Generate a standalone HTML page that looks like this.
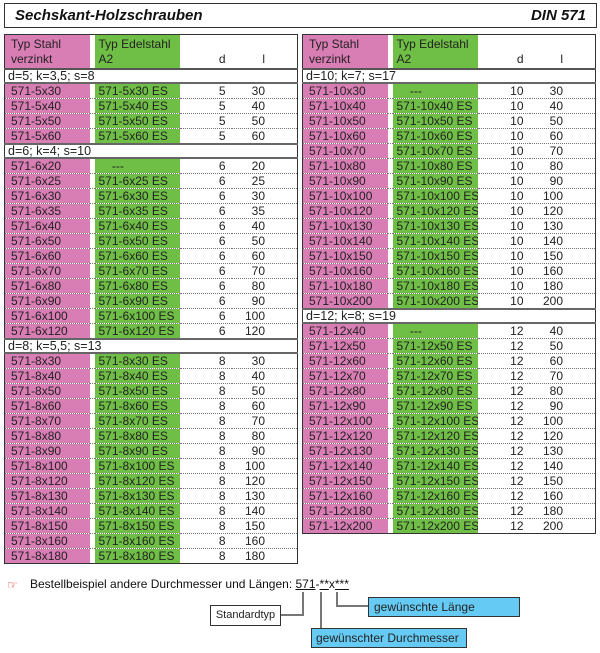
<!DOCTYPE html>
<html><head><meta charset="utf-8"><style>
*{margin:0;padding:0;box-sizing:border-box}
body{width:600px;height:653px;background:#fff;font-family:"Liberation Sans",sans-serif;color:#222;position:relative;overflow:hidden}
.title{position:absolute;left:4px;top:3px;width:593px;height:25px;border:1px solid #333}
.title b{position:absolute;top:3px;font-style:italic;font-size:15px;color:#111}
table{position:absolute;top:34px;border-collapse:collapse;table-layout:fixed;border:1px solid #333;font-size:12px}
td{height:15px;line-height:14px;padding:0;white-space:nowrap;border-bottom:1px dotted #777;overflow:hidden}
td.p{background:#d97db5;padding-left:6px}
td.g{background:#6fbe46;padding-left:4px}
td.w{background:#fff}
td.d{text-align:right;padding-right:6px}
td.l{text-align:right;padding-right:32px}
tr.h td{height:34px;vertical-align:bottom;line-height:15px;border-bottom:2px solid #555;padding-bottom:1px}
tr.s td{height:13px;line-height:12px;background:#fff;border-bottom:2px solid #666;padding-left:3px;font-size:12.5px}
.n td{border-bottom:2px solid #666}
</style></head><body>
<div class="title"><b style="left:10px">Sechskant-Holzschrauben</b><b style="right:10px">DIN 571</b></div>

<table style="left:4px;width:293px">
<colgroup><col style="width:85px"><col style="width:5px"><col style="width:85px"><col style="width:52px"><col style="width:66px"></colgroup>
<tr class="h"><td class="p">Typ Stahl<br>verzinkt</td><td class="w"></td><td class="g">Typ Edelstahl<br>A2</td><td class="w d">d</td><td class="w l">l</td></tr>
<tr class="s"><td colspan="5">d=5; k=3,5; s=8</td></tr>
<tr><td class="p">571-5x30</td><td></td><td class="g">571-5x30 ES</td><td class="d">5</td><td class="l">30</td></tr>
<tr><td class="p">571-5x40</td><td></td><td class="g">571-5x40 ES</td><td class="d">5</td><td class="l">40</td></tr>
<tr><td class="p">571-5x50</td><td></td><td class="g">571-5x50 ES</td><td class="d">5</td><td class="l">50</td></tr>
<tr class="n"><td class="p">571-5x60</td><td></td><td class="g">571-5x60 ES</td><td class="d">5</td><td class="l">60</td></tr>
<tr class="s"><td colspan="5">d=6; k=4; s=10</td></tr>
<tr><td class="p">571-6x20</td><td></td><td class="g">&nbsp;&nbsp;&nbsp;&nbsp;---</td><td class="d">6</td><td class="l">20</td></tr>
<tr><td class="p">571-6x25</td><td></td><td class="g">571-6x25 ES</td><td class="d">6</td><td class="l">25</td></tr>
<tr><td class="p">571-6x30</td><td></td><td class="g">571-6x30 ES</td><td class="d">6</td><td class="l">30</td></tr>
<tr><td class="p">571-6x35</td><td></td><td class="g">571-6x35 ES</td><td class="d">6</td><td class="l">35</td></tr>
<tr><td class="p">571-6x40</td><td></td><td class="g">571-6x40 ES</td><td class="d">6</td><td class="l">40</td></tr>
<tr><td class="p">571-6x50</td><td></td><td class="g">571-6x50 ES</td><td class="d">6</td><td class="l">50</td></tr>
<tr><td class="p">571-6x60</td><td></td><td class="g">571-6x60 ES</td><td class="d">6</td><td class="l">60</td></tr>
<tr><td class="p">571-6x70</td><td></td><td class="g">571-6x70 ES</td><td class="d">6</td><td class="l">70</td></tr>
<tr><td class="p">571-6x80</td><td></td><td class="g">571-6x80 ES</td><td class="d">6</td><td class="l">80</td></tr>
<tr><td class="p">571-6x90</td><td></td><td class="g">571-6x90 ES</td><td class="d">6</td><td class="l">90</td></tr>
<tr><td class="p">571-6x100</td><td></td><td class="g">571-6x100 ES</td><td class="d">6</td><td class="l">100</td></tr>
<tr class="n"><td class="p">571-6x120</td><td></td><td class="g">571-6x120 ES</td><td class="d">6</td><td class="l">120</td></tr>
<tr class="s"><td colspan="5">d=8; k=5,5; s=13</td></tr>
<tr><td class="p">571-8x30</td><td></td><td class="g">571-8x30 ES</td><td class="d">8</td><td class="l">30</td></tr>
<tr><td class="p">571-8x40</td><td></td><td class="g">571-8x40 ES</td><td class="d">8</td><td class="l">40</td></tr>
<tr><td class="p">571-8x50</td><td></td><td class="g">571-8x50 ES</td><td class="d">8</td><td class="l">50</td></tr>
<tr><td class="p">571-8x60</td><td></td><td class="g">571-8x60 ES</td><td class="d">8</td><td class="l">60</td></tr>
<tr><td class="p">571-8x70</td><td></td><td class="g">571-8x70 ES</td><td class="d">8</td><td class="l">70</td></tr>
<tr><td class="p">571-8x80</td><td></td><td class="g">571-8x80 ES</td><td class="d">8</td><td class="l">80</td></tr>
<tr><td class="p">571-8x90</td><td></td><td class="g">571-8x90 ES</td><td class="d">8</td><td class="l">90</td></tr>
<tr><td class="p">571-8x100</td><td></td><td class="g">571-8x100 ES</td><td class="d">8</td><td class="l">100</td></tr>
<tr><td class="p">571-8x120</td><td></td><td class="g">571-8x120 ES</td><td class="d">8</td><td class="l">120</td></tr>
<tr><td class="p">571-8x130</td><td></td><td class="g">571-8x130 ES</td><td class="d">8</td><td class="l">130</td></tr>
<tr><td class="p">571-8x140</td><td></td><td class="g">571-8x140 ES</td><td class="d">8</td><td class="l">140</td></tr>
<tr><td class="p">571-8x150</td><td></td><td class="g">571-8x150 ES</td><td class="d">8</td><td class="l">150</td></tr>
<tr><td class="p">571-8x160</td><td></td><td class="g">571-8x160 ES</td><td class="d">8</td><td class="l">160</td></tr>
<tr><td class="p" style="border-bottom:none">571-8x180</td><td style="border-bottom:none"></td><td class="g" style="border-bottom:none">571-8x180 ES</td><td class="d" style="border-bottom:none">8</td><td class="l" style="border-bottom:none">180</td></tr>
</table>

<table style="left:302px;width:293px">
<colgroup><col style="width:85px"><col style="width:5px"><col style="width:85px"><col style="width:52px"><col style="width:66px"></colgroup>
<tr class="h"><td class="p">Typ Stahl<br>verzinkt</td><td class="w"></td><td class="g">Typ Edelstahl<br>A2</td><td class="w d">d</td><td class="w l">l</td></tr>
<tr class="s"><td colspan="5">d=10; k=7; s=17</td></tr>
<tr><td class="p">571-10x30</td><td></td><td class="g">&nbsp;&nbsp;&nbsp;&nbsp;---</td><td class="d">10</td><td class="l">30</td></tr>
<tr><td class="p">571-10x40</td><td></td><td class="g">571-10x40 ES</td><td class="d">10</td><td class="l">40</td></tr>
<tr><td class="p">571-10x50</td><td></td><td class="g">571-10x50 ES</td><td class="d">10</td><td class="l">50</td></tr>
<tr><td class="p">571-10x60</td><td></td><td class="g">571-10x60 ES</td><td class="d">10</td><td class="l">60</td></tr>
<tr><td class="p">571-10x70</td><td></td><td class="g">571-10x70 ES</td><td class="d">10</td><td class="l">70</td></tr>
<tr><td class="p">571-10x80</td><td></td><td class="g">571-10x80 ES</td><td class="d">10</td><td class="l">80</td></tr>
<tr><td class="p">571-10x90</td><td></td><td class="g">571-10x90 ES</td><td class="d">10</td><td class="l">90</td></tr>
<tr><td class="p">571-10x100</td><td></td><td class="g">571-10x100 ES</td><td class="d">10</td><td class="l">100</td></tr>
<tr><td class="p">571-10x120</td><td></td><td class="g">571-10x120 ES</td><td class="d">10</td><td class="l">120</td></tr>
<tr><td class="p">571-10x130</td><td></td><td class="g">571-10x130 ES</td><td class="d">10</td><td class="l">130</td></tr>
<tr><td class="p">571-10x140</td><td></td><td class="g">571-10x140 ES</td><td class="d">10</td><td class="l">140</td></tr>
<tr><td class="p">571-10x150</td><td></td><td class="g">571-10x150 ES</td><td class="d">10</td><td class="l">150</td></tr>
<tr><td class="p">571-10x160</td><td></td><td class="g">571-10x160 ES</td><td class="d">10</td><td class="l">160</td></tr>
<tr><td class="p">571-10x180</td><td></td><td class="g">571-10x180 ES</td><td class="d">10</td><td class="l">180</td></tr>
<tr class="n"><td class="p">571-10x200</td><td></td><td class="g">571-10x200 ES</td><td class="d">10</td><td class="l">200</td></tr>
<tr class="s"><td colspan="5">d=12; k=8; s=19</td></tr>
<tr><td class="p">571-12x40</td><td></td><td class="g">&nbsp;&nbsp;&nbsp;&nbsp;---</td><td class="d">12</td><td class="l">40</td></tr>
<tr><td class="p">571-12x50</td><td></td><td class="g">571-12x50 ES</td><td class="d">12</td><td class="l">50</td></tr>
<tr><td class="p">571-12x60</td><td></td><td class="g">571-12x60 ES</td><td class="d">12</td><td class="l">60</td></tr>
<tr><td class="p">571-12x70</td><td></td><td class="g">571-12x70 ES</td><td class="d">12</td><td class="l">70</td></tr>
<tr><td class="p">571-12x80</td><td></td><td class="g">571-12x80 ES</td><td class="d">12</td><td class="l">80</td></tr>
<tr><td class="p">571-12x90</td><td></td><td class="g">571-12x90 ES</td><td class="d">12</td><td class="l">90</td></tr>
<tr><td class="p">571-12x100</td><td></td><td class="g">571-12x100 ES</td><td class="d">12</td><td class="l">100</td></tr>
<tr><td class="p">571-12x120</td><td></td><td class="g">571-12x120 ES</td><td class="d">12</td><td class="l">120</td></tr>
<tr><td class="p">571-12x130</td><td></td><td class="g">571-12x130 ES</td><td class="d">12</td><td class="l">130</td></tr>
<tr><td class="p">571-12x140</td><td></td><td class="g">571-12x140 ES</td><td class="d">12</td><td class="l">140</td></tr>
<tr><td class="p">571-12x150</td><td></td><td class="g">571-12x150 ES</td><td class="d">12</td><td class="l">150</td></tr>
<tr><td class="p">571-12x160</td><td></td><td class="g">571-12x160 ES</td><td class="d">12</td><td class="l">160</td></tr>
<tr><td class="p">571-12x180</td><td></td><td class="g">571-12x180 ES</td><td class="d">12</td><td class="l">180</td></tr>
<tr><td class="p" style="border-bottom:none">571-12x200</td><td style="border-bottom:none"></td><td class="g" style="border-bottom:none">571-12x200 ES</td><td class="d" style="border-bottom:none">12</td><td class="l" style="border-bottom:none">200</td></tr>
</table>

<div style="position:absolute;left:7px;top:578px;font-size:12px;color:#d22">☞</div>
<div style="position:absolute;left:30px;top:577px;font-size:12px;color:#111">Bestellbeispiel andere Durchmesser und Längen: <span style="text-decoration:underline">571</span>-<span style="text-decoration:underline">**</span>x<span style="text-decoration:underline">***</span></div>
<svg style="position:absolute;left:0;top:0" width="600" height="653">
<g stroke="#777" stroke-width="2" fill="none">
<polyline points="303,592 303,615 280,615"/>
<polyline points="321,592 321,628"/>
<polyline points="337,592 337,606 368,606"/>
</g>
</svg>
<div style="position:absolute;left:210px;top:605px;width:71px;height:21px;border:1px solid #333;background:#fff;font-size:11px;line-height:19px;text-align:center">Standardtyp</div>
<div style="position:absolute;left:368px;top:597px;width:152px;height:20px;border:1px solid #333;background:#66cbf4;font-size:12px;line-height:18px;padding-left:5px">gewünschte Länge</div>
<div style="position:absolute;left:311px;top:628px;width:156px;height:20px;border:1px solid #333;background:#66cbf4;font-size:12px;line-height:18px;padding-left:4px">gewünschter Durchmesser</div>
</body></html>
